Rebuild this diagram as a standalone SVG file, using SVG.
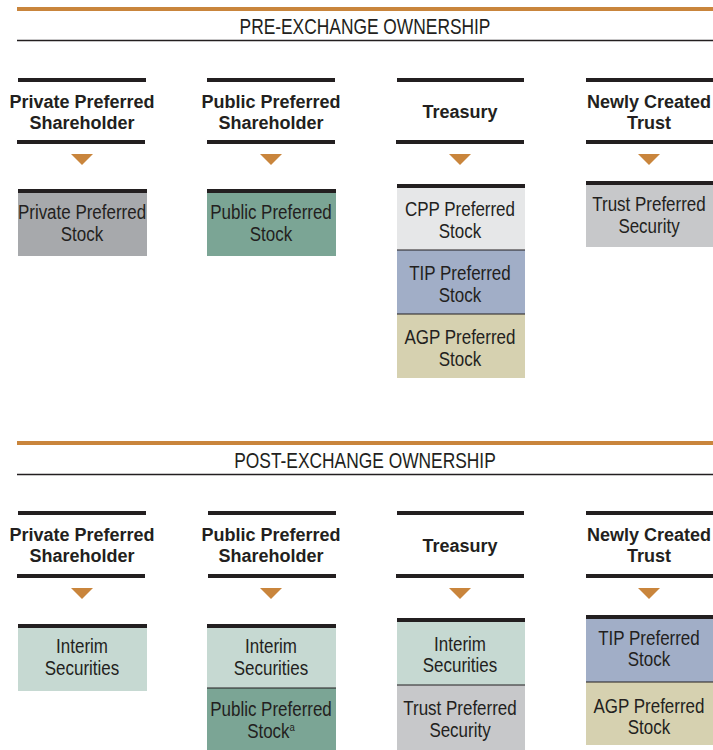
<svg xmlns="http://www.w3.org/2000/svg" width="713" height="750" viewBox="0 0 713 750">
<style>
.orange{fill:#C9853C}
.bar{fill:#231F20}
.thin{stroke:#231F20;stroke-width:1.5}
.sep{stroke:#231F20;stroke-width:1.2}
.title{font-family:"Liberation Sans",Arial,sans-serif;font-size:22px;fill:#231F20;text-anchor:middle}
.head{font-family:"Liberation Sans",Arial,sans-serif;font-weight:bold;font-size:18px;fill:#231F20;text-anchor:middle}
.lbl{font-family:"Liberation Sans",Arial,sans-serif;font-size:19.5px;fill:#231F20;text-anchor:middle}
.sup{font-size:11px}
.gray{fill:#A7A9AC}
.green{fill:#7BA595}
.light{fill:#E6E7E8}
.blue{fill:#A1AEC7}
.tan{fill:#D6D1B0}
.lgray{fill:#C7C8CA}
.mint{fill:#C6D9D2}
</style>
<defs>
<path id="tri" d="M-11,0 L11,0 L0,11 Z" class="orange"/>
</defs>

<!-- Section titles -->
<g id="pre-title">
<rect x="17" y="7" width="696" height="4" class="orange"/>
<text transform="translate(365,34) scale(0.79,1)" class="title">PRE-EXCHANGE OWNERSHIP</text>
<line x1="17" y1="40.5" x2="713" y2="40.5" class="thin"/>
</g>
<g id="post-title">
<rect x="17" y="441" width="696" height="4" class="orange"/>
<text transform="translate(365,468) scale(0.79,1)" class="title">POST-EXCHANGE OWNERSHIP</text>
<line x1="17" y1="474.5" x2="713" y2="474.5" class="thin"/>
</g>

<!-- PRE headers -->
<g id="pre-private-holder">
<rect x="18" y="78" width="128" height="4" class="bar"/>
<text x="82" y="108" class="head">Private Preferred</text>
<text x="82" y="129" class="head">Shareholder</text>
<rect x="17" y="140" width="128" height="4" class="bar"/>
</g>
<g id="pre-public-holder">
<rect x="207" y="78" width="128" height="4" class="bar"/>
<text x="271" y="108" class="head">Public Preferred</text>
<text x="271" y="129" class="head">Shareholder</text>
<rect x="207" y="140" width="128" height="4" class="bar"/>
</g>
<g id="pre-treasury">
<rect x="397" y="78" width="127" height="4" class="bar"/>
<text x="460" y="118" class="head">Treasury</text>
<rect x="396" y="140" width="128" height="4" class="bar"/>
</g>
<g id="pre-trust">
<rect x="586" y="78" width="127" height="4" class="bar"/>
<text x="649" y="108" class="head">Newly Created</text>
<text x="649" y="129" class="head">Trust</text>
<rect x="586" y="140" width="127" height="4" class="bar"/>
</g>

<!-- connectors -->
<g id="connectors">
<use href="#tri" x="82" y="154"/>
<use href="#tri" x="271" y="154"/>
<use href="#tri" x="460" y="154"/>
<use href="#tri" x="649" y="154"/>
<use href="#tri" x="82" y="588"/>
<use href="#tri" x="271" y="588"/>
<use href="#tri" x="460" y="588"/>
<use href="#tri" x="649" y="588"/>
</g>

<!-- PRE boxes -->
<g id="pre-private-stock">
<rect x="18" y="193" width="129" height="63" class="gray"/>
<rect x="18" y="189" width="129" height="4" class="bar"/>
<text transform="translate(82,219) scale(0.87,1)" class="lbl">Private Preferred</text>
<text transform="translate(82,241) scale(0.87,1)" class="lbl">Stock</text>
</g>
<g id="pre-public-stock">
<rect x="207" y="193" width="129" height="63" class="green"/>
<rect x="207" y="189" width="129" height="4" class="bar"/>
<text transform="translate(271,219) scale(0.87,1)" class="lbl">Public Preferred</text>
<text transform="translate(271,241) scale(0.87,1)" class="lbl">Stock</text>
</g>
<g id="pre-treasury-stack">
<rect x="397" y="188" width="128" height="62" class="light"/>
<rect x="397" y="250" width="128" height="64" class="blue"/>
<rect x="397" y="314" width="128" height="64" class="tan"/>
<rect x="397" y="184" width="128" height="4" class="bar"/>
<line x1="397" y1="250" x2="525" y2="250" class="sep"/>
<line x1="397" y1="314" x2="525" y2="314" class="sep"/>
<text transform="translate(460,216) scale(0.87,1)" class="lbl">CPP Preferred</text>
<text transform="translate(460,238) scale(0.87,1)" class="lbl">Stock</text>
<text transform="translate(460,280) scale(0.87,1)" class="lbl">TIP Preferred</text>
<text transform="translate(460,302) scale(0.87,1)" class="lbl">Stock</text>
<text transform="translate(460,344) scale(0.87,1)" class="lbl">AGP Preferred</text>
<text transform="translate(460,366) scale(0.87,1)" class="lbl">Stock</text>
</g>
<g id="pre-trust-security">
<rect x="586" y="185" width="127" height="62" class="lgray"/>
<rect x="586" y="181" width="127" height="4" class="bar"/>
<text transform="translate(649,211) scale(0.87,1)" class="lbl">Trust Preferred</text>
<text transform="translate(649,233) scale(0.87,1)" class="lbl">Security</text>
</g>

<!-- POST headers -->
<g id="post-private-holder">
<rect x="18" y="511" width="128" height="4" class="bar"/>
<text x="82" y="541" class="head">Private Preferred</text>
<text x="82" y="562" class="head">Shareholder</text>
<rect x="17" y="574" width="128" height="4" class="bar"/>
</g>
<g id="post-public-holder">
<rect x="208" y="511" width="128" height="4" class="bar"/>
<text x="271" y="541" class="head">Public Preferred</text>
<text x="271" y="562" class="head">Shareholder</text>
<rect x="208" y="574" width="128" height="4" class="bar"/>
</g>
<g id="post-treasury">
<rect x="397" y="511" width="127" height="4" class="bar"/>
<text x="460" y="552" class="head">Treasury</text>
<rect x="396" y="574" width="128" height="4" class="bar"/>
</g>
<g id="post-trust">
<rect x="586" y="511" width="127" height="4" class="bar"/>
<text x="649" y="541" class="head">Newly Created</text>
<text x="649" y="562" class="head">Trust</text>
<rect x="586" y="574" width="127" height="4" class="bar"/>
</g>

<!-- POST boxes -->
<g id="post-private-interim">
<rect x="18" y="628" width="129" height="63" class="mint"/>
<rect x="18" y="624" width="129" height="4" class="bar"/>
<text transform="translate(82,653) scale(0.87,1)" class="lbl">Interim</text>
<text transform="translate(82,675) scale(0.87,1)" class="lbl">Securities</text>
</g>
<g id="post-public-stack">
<rect x="207" y="628" width="129" height="60" class="mint"/>
<rect x="207" y="688" width="129" height="62" class="green"/>
<rect x="207" y="624" width="129" height="4" class="bar"/>
<line x1="207" y1="688" x2="336" y2="688" class="sep"/>
<text transform="translate(271,653) scale(0.87,1)" class="lbl">Interim</text>
<text transform="translate(271,675) scale(0.87,1)" class="lbl">Securities</text>
<text transform="translate(271,716) scale(0.87,1)" class="lbl">Public Preferred</text>
<text transform="translate(271,738) scale(0.87,1)" class="lbl">Stock<tspan class="sup" dy="-7">a</tspan></text>
</g>
<g id="post-treasury-stack">
<rect x="397" y="622" width="128" height="63" class="mint"/>
<rect x="397" y="685" width="128" height="65" class="lgray"/>
<rect x="397" y="618" width="128" height="4" class="bar"/>
<line x1="397" y1="685" x2="525" y2="685" class="sep"/>
<text transform="translate(460,651) scale(0.87,1)" class="lbl">Interim</text>
<text transform="translate(460,672) scale(0.87,1)" class="lbl">Securities</text>
<text transform="translate(460,715) scale(0.87,1)" class="lbl">Trust Preferred</text>
<text transform="translate(460,737) scale(0.87,1)" class="lbl">Security</text>
</g>
<g id="post-trust-stack">
<rect x="586" y="619" width="127" height="63" class="blue"/>
<rect x="586" y="682" width="127" height="63" class="tan"/>
<rect x="586" y="615" width="127" height="4" class="bar"/>
<line x1="586" y1="682" x2="713" y2="682" class="sep"/>
<text transform="translate(649,645) scale(0.87,1)" class="lbl">TIP Preferred</text>
<text transform="translate(649,666) scale(0.87,1)" class="lbl">Stock</text>
<text transform="translate(649,713) scale(0.87,1)" class="lbl">AGP Preferred</text>
<text transform="translate(649,734) scale(0.87,1)" class="lbl">Stock</text>
</g>
</svg>
